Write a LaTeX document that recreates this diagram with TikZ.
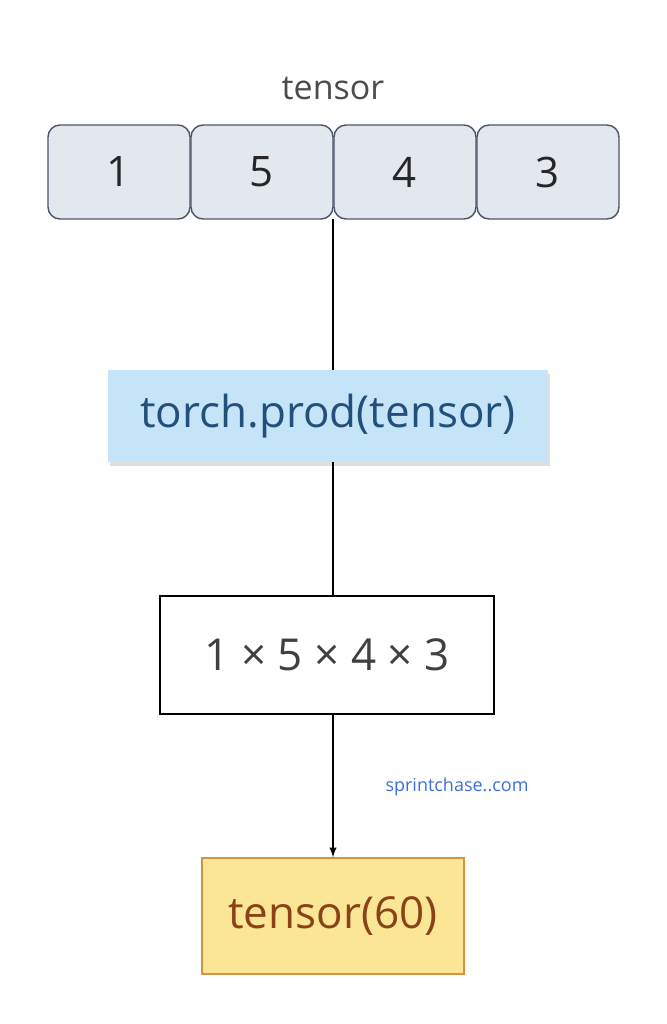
\documentclass[tikz,border=0pt]{standalone}
\usepackage{fontspec}
\setmainfont{Open Sans}
\usetikzlibrary{positioning,shadows}
\definecolor{cellfill}{HTML}{E3E7EE}
\definecolor{cellline}{HTML}{4A5568}
\definecolor{opfill}{HTML}{C5E4F7}
\definecolor{optext}{HTML}{22507A}
\definecolor{resfill}{HTML}{FBE696}
\definecolor{resline}{HTML}{D9913A}
\definecolor{restext}{HTML}{8A4316}
\definecolor{linkblue}{HTML}{3B6FD8}
\tikzset{
  cell/.style={draw=cellline, fill=cellfill, rounded corners=6pt, line width=0.7pt,
    minimum width=71pt, minimum height=47pt, font=\fontsize{21}{24}\selectfont, text=black!85},
}
\begin{document}
\begin{tikzpicture}[x=0.5pt,y=-0.5pt]
    \useasboundingbox (0,0) rectangle (667,1024);
    \node[text=black!70, font=\fontsize{17}{20}\selectfont] (lbl) at (333,88) {tensor};
    \node[cell] (c1) at (119,172) {1};
    \node[cell] (c2) at (262,172) {5};
    \node[cell] (c3) at (405,172) {4};
    \node[cell] (c4) at (548,172) {3};
    \coordinate (top) at (333,219);
    \node[fill=opfill, minimum width=220pt, minimum height=46pt, text=optext,
      drop shadow={opacity=0.25,shadow xshift=1pt,shadow yshift=-2pt},
      font=\fontsize{22}{26}\selectfont] (op) at (328,416) {torch.prod(tensor)};
    \node[draw, line width=0.7pt, minimum width=167pt, minimum height=59pt, text=black!75,
      font=\fontsize{22}{26}\selectfont] (calc) at (327,655) {1 × 5 × 4 × 3};
    \node[draw=resline, fill=resfill, line width=0.7pt, minimum width=131pt, minimum height=58pt,
      text=restext, font=\fontsize{22}{26}\selectfont] (res) at (333,916) {tensor(60)};
    \node[text=linkblue, font=\fontsize{9}{11}\selectfont] (site) at (457,787) {sprintchase..com};
    \draw[line width=0.7pt] (top) -- (top |- op.north);
    \draw[line width=0.7pt] (op.south -| top) -- (top |- calc.north);
    \draw[line width=0.7pt, -latex] (calc.south -| top) -- (top |- res.north);
\end{tikzpicture}
\end{document}
